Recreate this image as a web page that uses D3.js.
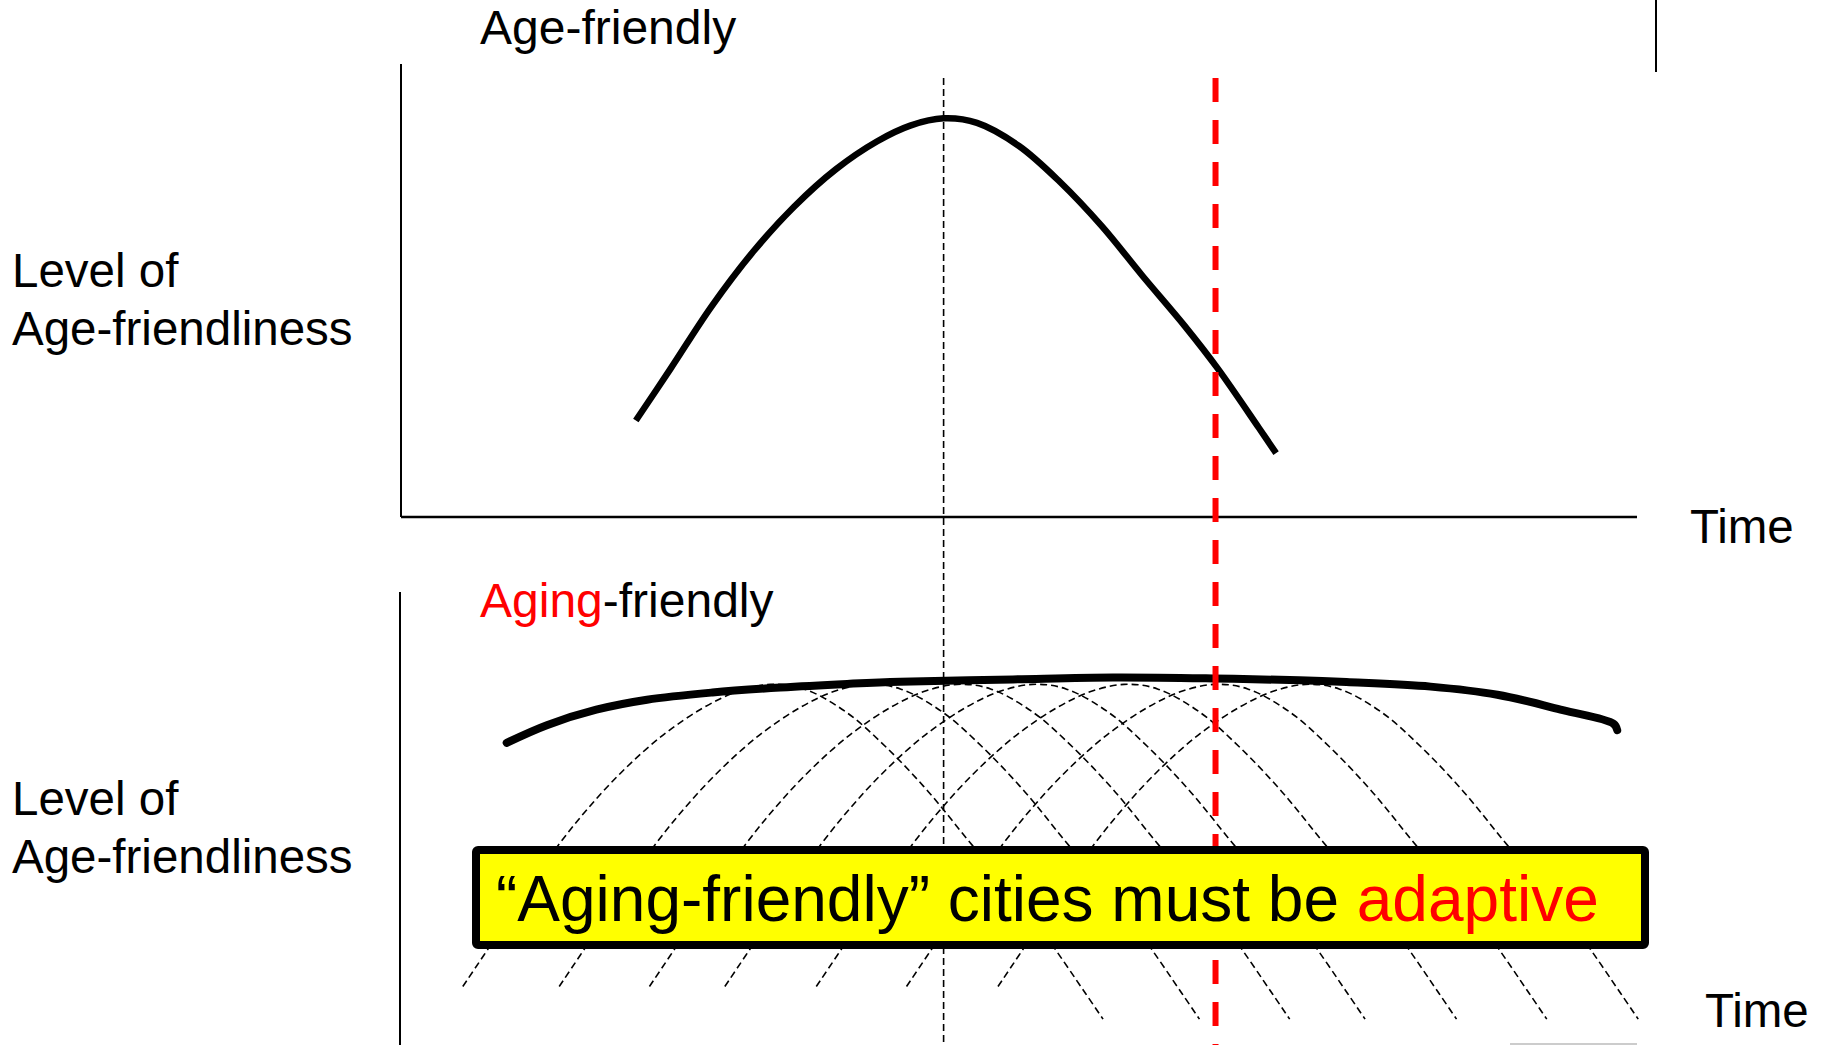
<html>
<head>
  <title>Age-friendly vs Aging-friendly</title>
  <script src='https://d3js.org/d3.v7.min.js'></script>
  <style>
    body { margin: 0; background: #fff; }
    text { font-family: "Liberation Sans", Arial, sans-serif; }
  </style>
</head>
<body>
<script>

// one city's age-friendliness over time (top panel)
var curveTime  = [19, 21.8, 25.1, 28.5, 31.8, 35.2, 38.5, 41.2, 43.9, 46.6, 50, 53.3, 56.7, 60, 63.4, 66.1, 69.4, 70.8];
var curveLevel = [21.3, 32.7, 46.4, 58.6, 68.5, 76.8, 82.9, 86.4, 88, 87, 81.9, 74, 64.2, 53.2, 42.2, 32.7, 19.7, 14.1];

// the same curve repeated, shifted in time (bottom panel)
var shifts = [-14.0, -6.2, 1.1, 7.2, 14.6, 21.9, 29.3];

// envelope of an adaptive city (bottom panel)
var envTime  = [8.55, 11.8, 15.8, 19.9, 25.2, 30.7, 36.1, 40.4, 49.5, 57.6, 65.7, 72.7, 76.5, 83.3, 88.7, 94.0, 98.1, 98.4];
var envLevel = [75.1, 79.0, 82.4, 84.6, 86.2, 87.3, 88.1, 88.6, 89.1, 89.5, 89.3, 88.9, 88.5, 87.5, 85.7, 82.3, 79.3, 77.9];

var peakTime = 43.9,
    nowTime = 65.9;

var width = 1821,
    height = 1045;

var svg = d3.select('body')
            .append('svg')
            .attr('width', width)
            .attr('height', height);

var x = d3.scaleLinear().domain([0, 100]).range([401, 1637]);
var yTop = d3.scaleLinear().domain([0, 100]).range([517, 64]);
var yBot = d3.scaleLinear().domain([0, 100]).range([1083, 630]);

function pts(ts, ls) {
  return ts.map(function(t, i) { return [t, ls[i]]; });
}

var lineTop = d3.line()
    .x(function(d) { return x(d[0]); })
    .y(function(d) { return yTop(d[1]); })
    .curve(d3.curveCatmullRom);

var lineBot = d3.line()
    .x(function(d) { return x(d[0]); })
    .y(function(d) { return yBot(d[1]); })
    .curve(d3.curveCatmullRom);

// axes
svg.append('line').attr('x1', 401).attr('x2', 401).attr('y1', 64).attr('y2', 517)
   .attr('stroke', '#000').attr('stroke-width', 2);
svg.append('line').attr('x1', 401).attr('x2', 1637).attr('y1', 517).attr('y2', 517)
   .attr('stroke', '#000').attr('stroke-width', 2.5);
svg.append('line').attr('x1', 400).attr('x2', 400).attr('y1', 592).attr('y2', 1045)
   .attr('stroke', '#000').attr('stroke-width', 2);
svg.append('line').attr('x1', 1510).attr('x2', 1637).attr('y1', 1044).attr('y2', 1044)
   .attr('stroke', '#ccc').attr('stroke-width', 2);
svg.append('line').attr('x1', 1656).attr('x2', 1656).attr('y1', 0).attr('y2', 72)
   .attr('stroke', '#000').attr('stroke-width', 2);

// shifted copies
var curve = pts(curveTime, curveLevel);
svg.selectAll('.copy')
   .data(shifts)
   .enter()
   .append('path')
   .attr('class', 'copy')
   .attr('d', function(s) { return lineBot(curve.map(function(p) { return [p[0] + s, p[1]]; })); })
   .attr('fill', 'none')
   .attr('stroke', '#000')
   .attr('stroke-width', 1.6)
   .attr('stroke-dasharray', '7,4');

// envelope
svg.append('path')
   .attr('d', lineBot(pts(envTime, envLevel)))
   .attr('fill', 'none')
   .attr('stroke', '#000')
   .attr('stroke-width', 8)
   .attr('stroke-linecap', 'round');

// top curve
svg.append('path')
   .attr('d', lineTop(curve))
   .attr('fill', 'none')
   .attr('stroke', '#000')
   .attr('stroke-width', 6.5);

// marker lines
svg.append('line')
   .attr('x1', x(peakTime)).attr('x2', x(peakTime))
   .attr('y1', 78).attr('y2', height)
   .attr('stroke', '#000').attr('stroke-width', 1.6)
   .attr('stroke-dasharray', '7,4');

svg.append('line')
   .attr('x1', x(nowTime)).attr('x2', x(nowTime))
   .attr('y1', 78).attr('y2', height)
   .attr('stroke', '#ff0000').attr('stroke-width', 6)
   .attr('stroke-dasharray', '24,18');

// message box
svg.append('rect')
   .attr('x', 476).attr('y', 850)
   .attr('width', 1169).attr('height', 95)
   .attr('rx', 2)
   .attr('fill', '#ffff00')
   .attr('stroke', '#000')
   .attr('stroke-width', 8);

var msg = svg.append('text')
   .attr('x', 496).attr('y', 921)
   .attr('font-size', 64);
msg.append('tspan').attr('fill', '#000').text('\u201CAging-friendly\u201D cities must be ');
msg.append('tspan').attr('fill', '#ff0000').text('adaptive');

// titles and labels
svg.append('text').attr('x', 480).attr('y', 44).attr('font-size', 48).text('Age-friendly');

var t2 = svg.append('text').attr('x', 480).attr('y', 617).attr('font-size', 48);
t2.append('tspan').attr('fill', '#ff0000').text('Aging');
t2.append('tspan').attr('fill', '#000').text('-friendly');

[[287, 345], [815, 873]].forEach(function(b) {
  svg.append('text').attr('x', 12).attr('y', b[0]).attr('font-size', 47.5).text('Level of');
  svg.append('text').attr('x', 12).attr('y', b[1]).attr('font-size', 47.5).text('Age-friendliness');
});

svg.append('text').attr('x', 1690).attr('y', 543).attr('font-size', 47.5).text('Time');
svg.append('text').attr('x', 1705).attr('y', 1027).attr('font-size', 47.5).text('Time');

</script>
</body>
</html>
